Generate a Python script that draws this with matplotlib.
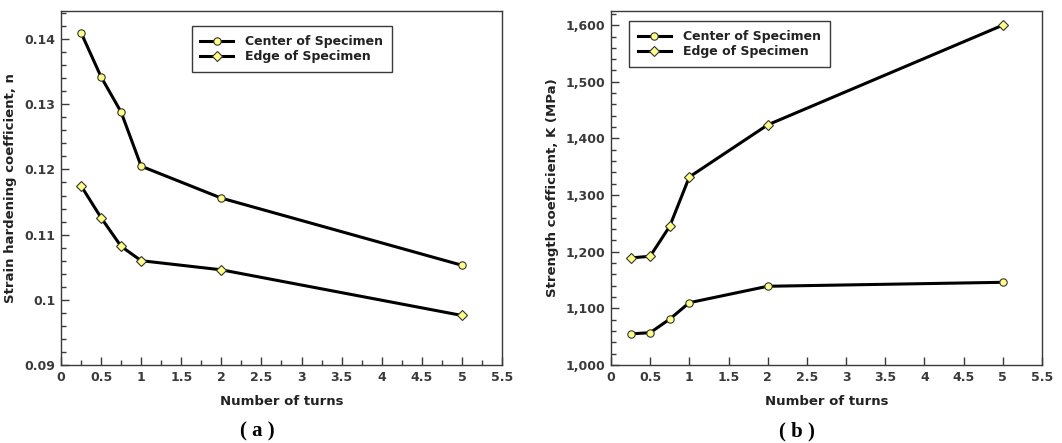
import matplotlib
matplotlib.use("Agg")
import matplotlib.pyplot as plt
from matplotlib.ticker import MultipleLocator, FuncFormatter

# data
turns = [0.25, 0.5, 0.75, 1, 2, 5]
n_center = [0.1410, 0.1342, 0.1288, 0.1205, 0.1156, 0.1053]
n_edge = [0.1175, 0.1126, 0.1082, 0.1060, 0.1046, 0.0976]
k_center = [1055, 1057, 1081, 1110, 1139, 1146]
k_edge = [1189, 1192, 1245, 1332, 1424, 1600]

n_ticks = [0.09, 0.10, 0.11, 0.12, 0.13, 0.14]
n_tick_labels = ["0.09", "0.1", "0.11", "0.12", "0.13", "0.14"]
series_labels = ["Center of Specimen", "Edge of Specimen"]

plt.rcParams['font.family'] = ['DejaVu Sans']
plt.rcParams['font.weight'] = 'bold'

GRAY = '#3a3a3a'
FILL = '#ffff88'

fig = plt.figure(figsize=(10.62, 4.43), dpi=100)
ax1 = fig.add_axes([0.0574, 0.1761, 0.4153, 0.799])
ax2 = fig.add_axes([0.5753, 0.1761, 0.4058, 0.799])


def style_axes(ax):
    for sp in ax.spines.values():
        sp.set_color(GRAY)
        sp.set_linewidth(1.0)
    ax.tick_params(which='both', direction='in', top=False, right=False,
                   colors=GRAY, labelsize=9, pad=4)
    ax.tick_params(which='major', length=5.5, width=1.0)
    ax.tick_params(which='minor', length=3.5, width=1.0)
    ax.set_xlim(0, 5.5)
    ax.xaxis.set_major_locator(MultipleLocator(0.5))
    ax.xaxis.set_major_formatter(FuncFormatter(lambda v, p: f"{v:g}"))
    ax.set_xlabel("Number of turns", fontsize=9.5, fontweight='bold', color='#222222', labelpad=8)


def draw(ax, yc, ye):
    ax.plot(turns, yc, '-o', color='black', lw=2.2, ms=5.3,
            mfc=FILL, mec='#333333', mew=0.8, label=series_labels[0])
    ax.plot(turns, ye, '-D', color='black', lw=2.2, ms=5.0,
            mfc=FILL, mec='#333333', mew=0.8, label=series_labels[1])


def add_legend(ax, anchor):
    leg = ax.legend(loc='upper left', bbox_to_anchor=anchor, fancybox=False,
                    framealpha=1, edgecolor=GRAY, handlelength=2.6,
                    handletextpad=1.0, labelspacing=0.2, borderpad=0.7,
                    prop={'size': 9, 'weight': 'bold'})
    leg.get_frame().set_linewidth(1.0)
    for t in leg.get_texts():
        t.set_color('#222222')


# (a) strain hardening coefficient
draw(ax1, n_center, n_edge)
style_axes(ax1)
ax1.set_ylim(0.09, 0.1443)
ax1.set_yticks(n_ticks)
ax1.set_yticklabels(n_tick_labels)
ax1.yaxis.set_minor_locator(MultipleLocator(0.002))
ax1.xaxis.set_minor_locator(MultipleLocator(0.25))
ax1.set_ylabel("Strain hardening coefficient, n", fontsize=9.5, fontweight='bold',
               color='#222222', labelpad=5)
add_legend(ax1, (0.282, 0.975))

# (b) strength coefficient
draw(ax2, k_center, k_edge)
style_axes(ax2)
ax2.set_ylim(1000, 1625)
ax2.yaxis.set_major_locator(MultipleLocator(100))
ax2.yaxis.set_minor_locator(MultipleLocator(20))
ax2.yaxis.set_major_formatter(FuncFormatter(lambda v, p: f"{v:,.0f}"))
ax2.set_ylabel("Strength coefficient, K (MPa)", fontsize=9.5, fontweight='bold',
               color='#222222', labelpad=5)
add_legend(ax2, (0.028, 0.989))

for lab in ax1.get_xticklabels() + ax1.get_yticklabels() + ax2.get_xticklabels() + ax2.get_yticklabels():
    lab.set_fontweight('bold')

fig.text(0.242, 0.004, "( a )", ha='center', va='bottom', fontsize=15,
         fontweight='bold', family='Liberation Serif')
fig.text(0.750, 0.004, "( b )", ha='center', va='bottom', fontsize=15,
         fontweight='bold', family='Liberation Serif')

fig.savefig("out.png", dpi=100)
